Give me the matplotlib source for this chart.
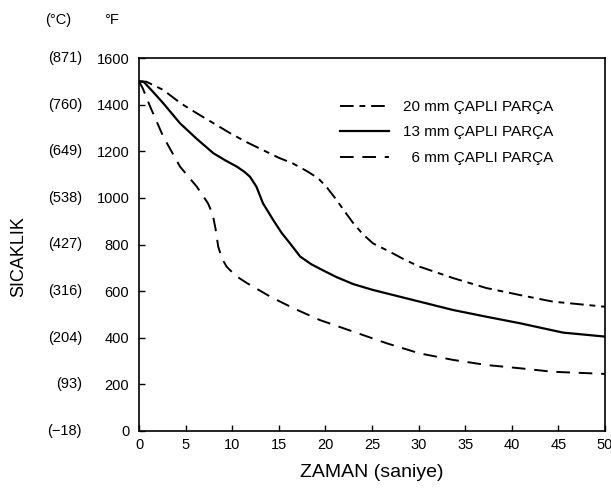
import matplotlib
matplotlib.use("Agg")
import matplotlib.pyplot as plt
from matplotlib.transforms import blended_transform_factory

plt.rcParams['font.family'] = ['Liberation Sans', 'DejaVu Sans']

# Data (time in s, temperature in °F)
t20 = [0, 0.8, 2.6, 4.5, 6.2, 8.0, 9.8, 11.5, 13.3, 15.0, 16.5, 18.0, 19.2, 20.1, 21.2, 22.1, 23.0, 24.0, 25.1, 26.9, 28.5, 30.1, 33.7, 37.3, 40.9, 44.4, 50]
T20 = [1500, 1498, 1463, 1405, 1363, 1320, 1277, 1240, 1205, 1172, 1148, 1115, 1085, 1048, 991, 940, 891, 845, 805, 769, 735, 705, 656, 613, 583, 555, 533]

t13 = [0, 0.5, 1.5, 2.6, 4.4, 6.2, 8.0, 9.3, 10.5, 11.3, 11.9, 12.6, 13.3, 14.4, 15.3, 16.2, 17.3, 18.5, 19.8, 21.2, 23.0, 25.1, 26.6, 30.1, 33.7, 37.3, 40.9, 45.5, 50]
T13 = [1500, 1498, 1455, 1406, 1320, 1253, 1191, 1160, 1134, 1112, 1091, 1048, 977, 905, 850, 805, 748, 715, 688, 660, 630, 605, 590, 555, 519, 490, 462, 422, 405]

t6 = [0, 0.4, 1.2, 2.6, 4.4, 6.2, 7.4, 7.9, 8.2, 8.5, 8.9, 9.4, 10.4, 11.6, 14.1, 16.6, 19.4, 23.0, 26.6, 30.1, 33.7, 37.3, 40.9, 44.4, 50]
T6 = [1500, 1470, 1391, 1263, 1134, 1048, 977, 930, 870, 791, 740, 705, 665, 634, 576, 526, 476, 426, 376, 333, 305, 283, 269, 254, 245]

labels = ['20 mm ÇAPLI PARÇA', '13 mm ÇAPLI PARÇA', '  6 mm ÇAPLI PARÇA']

xticks = [0, 5, 10, 15, 20, 25, 30, 35, 40, 45, 50]
yticks = [0, 200, 400, 600, 800, 1000, 1200, 1400, 1600]
ctick_labels = ['(\u221218)', '(93)', '(204)', '(316)', '(427)', '(538)', '(649)', '(760)', '(871)']

fig = plt.figure(figsize=(6.11, 4.91), dpi=100)
ax = fig.add_axes([139/611, 1-431/491, (605-139)/611, (431-58)/491])

lw = 1.4
l20, = ax.plot(t20, T20, color='black', lw=lw, dashes=[7, 3, 3, 3])
l13, = ax.plot(t13, T13, color='black', lw=lw+0.2)
l6, = ax.plot(t6, T6, color='black', lw=lw, dashes=[7, 4.5])

ax.set_xlim(0, 50)
ax.set_ylim(0, 1600)
ax.set_xticks(xticks)
ax.set_yticks(yticks)
ax.tick_params(direction='in', length=4, width=1, labelsize=10.5, top=False, right=False)
ax.tick_params(axis='y', pad=7)
ax.tick_params(axis='x', pad=5)
for s in ax.spines.values():
    s.set_linewidth(1.2)

leg = ax.legend([l20, l13, l6], labels, loc='upper left',
                bbox_to_anchor=((340-139)/466, 1-(109-58-9)/373),
                frameon=False, fontsize=11, handlelength=3.2,
                handletextpad=0.9, labelspacing=0.75, borderaxespad=0,
                borderpad=0)

ax.set_xlabel('ZAMAN (saniye)', fontsize=14, labelpad=9)
fig.text(19/611, 1-257/491, 'SICAKLIK', rotation=90, fontsize=13,
         ha='center', va='center')

trans = blended_transform_factory(fig.transFigure, ax.transData)
for y, lab in zip(yticks, ctick_labels):
    ax.text(82/611, y, lab, transform=trans, ha='right', va='center', fontsize=10.5)

fig.text(58/611, 1-20/491, '(\u00b0C)', ha='center', va='center', fontsize=10.5)
fig.text(112/611, 1-20/491, '\u00b0F', ha='center', va='center', fontsize=10.5)

fig.savefig('out.png', dpi=100)
